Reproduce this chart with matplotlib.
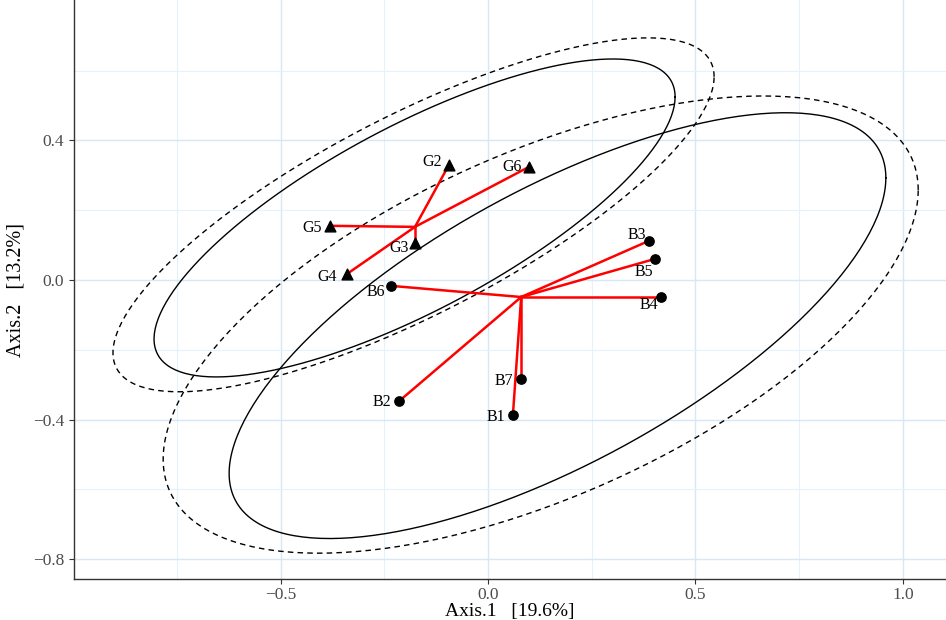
import numpy as np
import matplotlib
matplotlib.use("Agg")
import matplotlib.pyplot as plt

# sample scores (Axis.1, Axis.2)
g_names = ["G2", "G6", "G5", "G3", "G4"]
g_x = [-0.094, 0.099, -0.381, -0.176, -0.340]
g_y = [0.330, 0.324, 0.155, 0.106, 0.017]
g_centre = (-0.176, 0.152)

b_names = ["B6", "B3", "B5", "B4", "B7", "B2", "B1"]
b_x = [-0.234, 0.388, 0.402, 0.417, 0.080, -0.214, 0.060]
b_y = [-0.017, 0.112, 0.060, -0.049, -0.284, -0.347, -0.387]
b_centre = (0.080, -0.049)

# ellipses: centre x, centre y, half width, half height, correlation
ell_g_solid = (-0.177, 0.1775, 0.628, 0.4555, 0.761)
ell_g_dash = (-0.1795, 0.1865, 0.7245, 0.507, 0.78)
ell_b_solid = (0.1675, -0.131, 0.7915, 0.61, 0.694)
ell_b_dash = (0.127, -0.128, 0.910, 0.655, 0.589)

# label offsets in points
g_off = [(-12, 2), (-12, 0), (-12.5, -1.5), (-11.5, -3.5), (-14, -2)]
b_off = [(-10.5, -4.3), (-9, 4.3), (-7.5, -9.4), (-8.5, -5.8), (-12.5, -1.5), (-12.5, -1), (-12.5, -1.5)]


def ellipse(cx, cy, sx, sy, r):
    t = np.linspace(0, 2 * np.pi, 300)
    x = cx + sx * np.cos(t)
    y = cy + sy * (r * np.cos(t) + np.sqrt(1 - r ** 2) * np.sin(t))
    return x, y


plt.rcParams["font.family"] = ["Liberation Serif", "DejaVu Serif"]
fig = plt.figure(figsize=(9.46, 6.2), dpi=100)
ax = fig.add_axes([0.0782, 0.0661, 0.9218, 0.9339])

for e, ls in [(ell_g_solid, "-"), (ell_g_dash, (0, (4, 3))),
              (ell_b_solid, "-"), (ell_b_dash, (0, (4, 3)))]:
    ex, ey = ellipse(*e)
    ax.plot(ex, ey, color="black", lw=1.0, linestyle=ls, zorder=2)

for x, y in zip(g_x, g_y):
    ax.plot([g_centre[0], x], [g_centre[1], y], color="red", lw=1.8, zorder=3)
for x, y in zip(b_x, b_y):
    ax.plot([b_centre[0], x], [b_centre[1], y], color="red", lw=1.8, zorder=3)

ax.scatter(g_x, g_y, marker="^", s=60, color="black", zorder=4)
ax.scatter(b_x, b_y, marker="o", s=45, color="black", zorder=4)

for n, x, y, o in zip(g_names, g_x, g_y, g_off):
    ax.annotate(n, (x, y), xytext=o, textcoords="offset points",
                ha="center", va="center", fontsize=11.5)
for n, x, y, o in zip(b_names, b_x, b_y, b_off):
    ax.annotate(n, (x, y), xytext=o, textcoords="offset points",
                ha="center", va="center", fontsize=11.5)

ax.set_xlim(-0.998, 1.104)
ax.set_ylim(-0.857, 0.802)
ax.set_xticks([-0.5, 0.0, 0.5, 1.0])
ax.set_yticks([-0.8, -0.4, 0.0, 0.4])
ax.set_xticks([-0.75, -0.25, 0.25, 0.75], minor=True)
ax.set_yticks([-0.6, -0.2, 0.2, 0.6], minor=True)
ax.grid(True, which="major", color="#d6e8f8", lw=1.0)
ax.grid(True, which="minor", color="#e6f1fb", lw=0.8)
ax.set_axisbelow(True)
ax.tick_params(which="minor", length=0)
ax.tick_params(which="major", length=3.5, color="#333333", labelcolor="#4d4d4d",
               labelsize=12.5, width=0.8)
ax.tick_params(axis="x", pad=2.5)
for s in ["top", "right"]:
    ax.spines[s].set_visible(False)
for s in ["left", "bottom"]:
    ax.spines[s].set_color("#333333")
    ax.spines[s].set_linewidth(1.0)

ax.set_xlabel("Axis.1   [19.6%]", fontsize=14, labelpad=0)
ax.set_ylabel("Axis.2   [13.2%]", fontsize=14.5, labelpad=5)

fig.savefig("out.png", dpi=100)
